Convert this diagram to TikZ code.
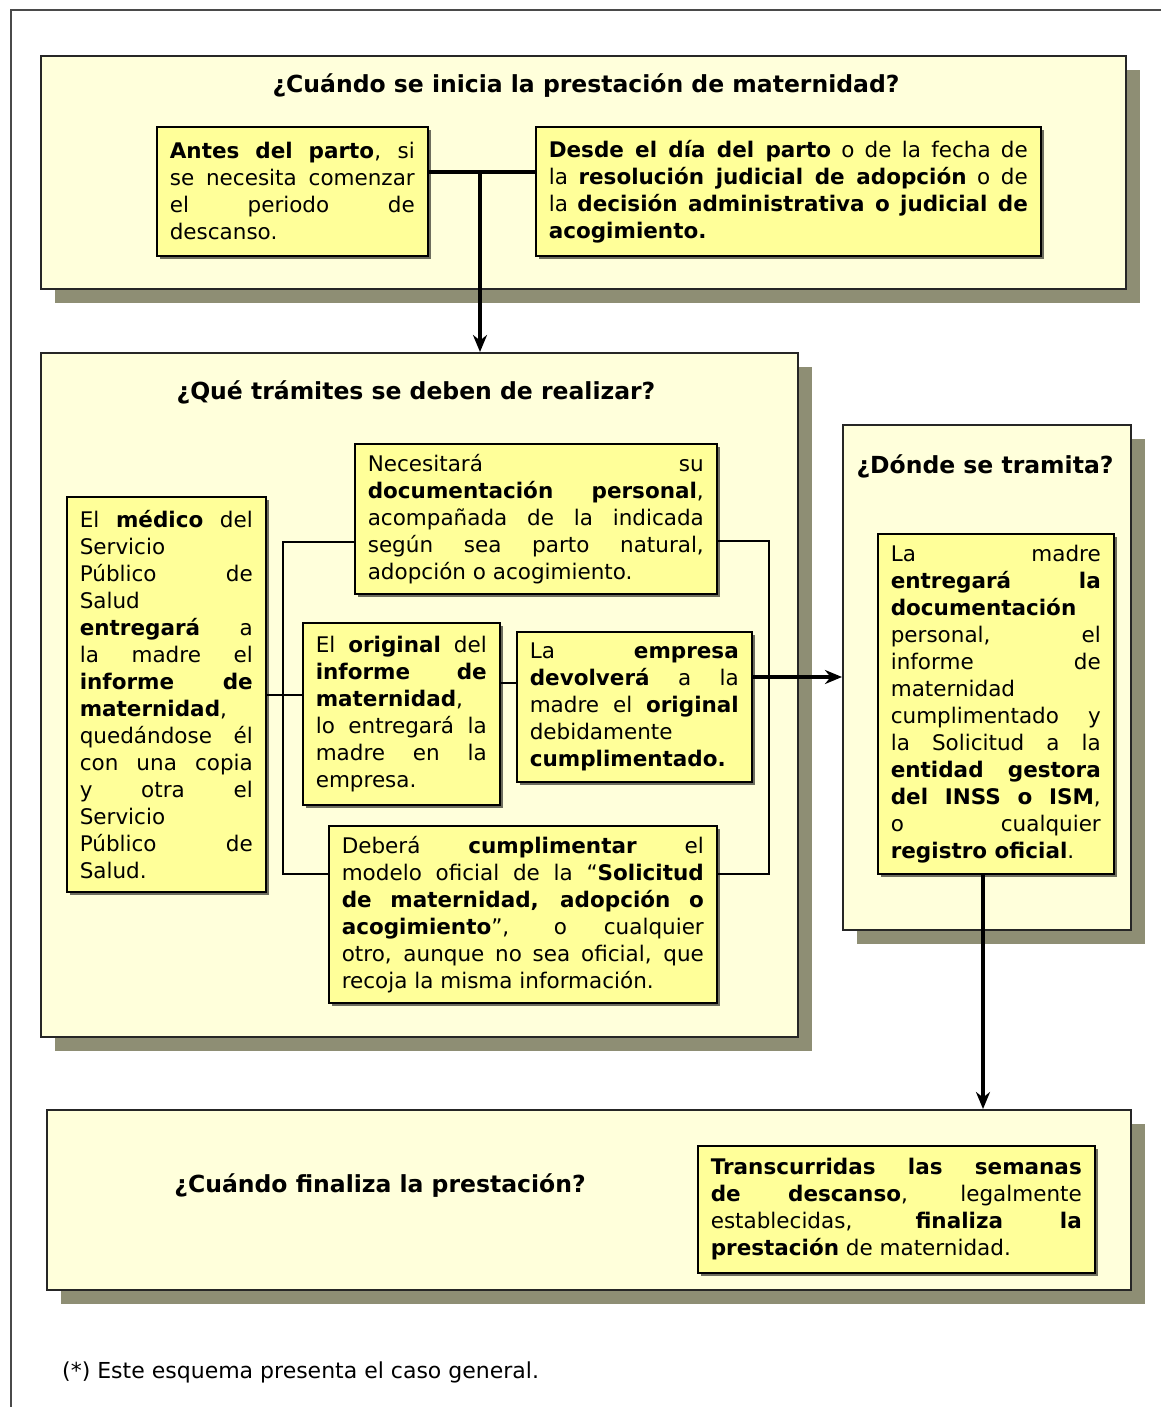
\documentclass[tikz,border=0pt]{standalone}
\usepackage{fontspec}
\setmainfont{DejaVu Sans}
\usepackage{tikz}
\usetikzlibrary{shadows, arrows.meta}

\definecolor{panelfill}{HTML}{FFFFDB}
\definecolor{boxfill}{HTML}{FFFF99}
\definecolor{panelshadow}{HTML}{8E8E74}
\definecolor{boxshadow}{HTML}{6E6E5E}
\definecolor{framegray}{HTML}{4A4A4A}

\setlength{\parindent}{0pt}
\hyphenpenalty=10000

\newcommand{\bodyfont}{\fontsize{21.5}{27}\selectfont}
\newcommand{\titlefont}{\fontsize{23.5}{28}\selectfont\bfseries}

\tikzset{
  panel/.style={draw=black!85, fill=panelfill, line width=2pt, anchor=north west, inner sep=0pt,
    drop shadow={shadow xshift=14pt, shadow yshift=-14pt, fill=panelshadow, opacity=1}},
  textbox/.style={draw=black, fill=boxfill, line width=1.6pt, anchor=north west, align=justify,
    inner xsep=13pt, inner ysep=0pt, font=\bodyfont,
    drop shadow={shadow xshift=3pt, shadow yshift=-3pt, fill=boxshadow, opacity=1}},
  paneltitle/.style={font=\titlefont, inner sep=0pt},
  link/.style={line width=1.6pt},
  thicklink/.style={line width=4pt},
  flecha/.style={-{Stealth[length=17pt, width=14pt]}}
}

\begin{document}
\begin{tikzpicture}[x=1pt, y=-1pt]
    \useasboundingbox (0,0) rectangle (1161,1407);
    \fill[white] (0,0) rectangle (1161,1407);

    % draw outer frame (top and left only)
    \draw[framegray, line width=2pt] (11,1407) -- (11,10) -- (1161,10);

    % draw the four panels
    \node[panel, minimum width=1085pt, minimum height=233pt] (inicio) at (40,55) {};
    \node[panel, minimum width=757pt, minimum height=684pt] (tramites) at (40,352) {};
    \node[panel, minimum width=288pt, minimum height=505pt] (donde) at (842,424) {};
    \node[panel, minimum width=1084pt, minimum height=180pt] (fin) at (46,1109) {};

    % panel titles
    \node[paneltitle] (tinicio) at (586,86) {¿Cuándo se inicia la prestación de maternidad?};
    \node[paneltitle] (ttramites) at (416,392) {¿Qué trámites se deben de realizar?};
    \node[paneltitle] (tdonde) at (985,466) {¿Dónde se tramita?};
    \node[paneltitle] (tfin) at (380,1186) {¿Cuándo finaliza la prestación?};

    % boxes of the first panel
    \node[textbox, text width=245pt, minimum height=129pt] (antes) at (156,126)
      {\textbf{Antes del parto}, si\linebreak se necesita comenzar\linebreak el periodo de\linebreak descanso.};
    \node[textbox, text width=479pt, minimum height=129pt] (desde) at (535,126)
      {\textbf{Desde el día del parto} o de la fecha de\linebreak la \textbf{resolución judicial de adopción} o de\linebreak la \textbf{decisión administrativa o judicial de\linebreak acogimiento.}};

    % boxes of the second panel
    \node[textbox, text width=336pt, minimum height=150pt] (necesita) at (354,443)
      {Necesitará su\linebreak \textbf{documentación personal},\linebreak acompañada de la indicada\linebreak según sea parto natural,\linebreak adopción o acogimiento.};
    \node[textbox, text width=173pt, minimum height=395pt] (medico) at (66,496)
      {El \textbf{médico} del\linebreak Servicio\linebreak Público de\linebreak Salud\linebreak \textbf{entregará} a\linebreak la madre el\linebreak \textbf{informe de}\linebreak \textbf{maternidad},\linebreak quedándose él\linebreak con una copia\linebreak y otra el\linebreak Servicio\linebreak Público de\linebreak Salud.};
    \node[textbox, text width=171pt, minimum height=182pt] (original) at (302,622)
      {El \textbf{original} del\linebreak \textbf{informe de}\linebreak \textbf{maternidad},\linebreak lo entregará la\linebreak madre en la\linebreak empresa.};
    \node[textbox, text width=209pt, minimum height=150pt] (empresa) at (516,631)
      {La \textbf{empresa}\linebreak \textbf{devolverá} a la\linebreak madre el \textbf{original}\linebreak debidamente\linebreak \textbf{cumplimentado.}};
    \node[textbox, text width=362pt, minimum height=177pt] (debera) at (328,825)
      {Deberá \textbf{cumplimentar} el\linebreak modelo oficial de la “\textbf{Solicitud}\linebreak \textbf{de maternidad, adopción o}\linebreak \textbf{acogimiento}”, o cualquier\linebreak otro, aunque no sea oficial, que\linebreak recoja la misma información.};

    % box of the third panel
    \node[textbox, text width=210pt, minimum height=340pt] (entrega) at (877,533)
      {La madre\linebreak \textbf{entregará la}\linebreak \textbf{documentación}\linebreak personal, el\linebreak informe de\linebreak maternidad\linebreak cumplimentado y\linebreak la Solicitud a la\linebreak \textbf{entidad gestora}\linebreak \textbf{del INSS o ISM},\linebreak o cualquier\linebreak \textbf{registro oficial}.};

    % box of the last panel
    \node[textbox, text width=371pt, minimum height=127pt] (semanas) at (697,1145)
      {\textbf{Transcurridas las semanas}\linebreak \textbf{de descanso}, legalmente\linebreak establecidas, \textbf{finaliza la}\linebreak \textbf{prestación} de maternidad.};

    % draw links of the first panel
    \coordinate (ramal) at (480,172);
    \draw[thicklink] (antes.east |- ramal) -- (desde.west |- ramal);
    \draw[thicklink, flecha] (ramal) -- (ramal |- tramites.north);

    % draw brackets of the second panel
    \coordinate (izqa) at (283,542);
    \coordinate (izqb) at (283,874);
    \coordinate (dera) at (769,541);
    \coordinate (derb) at (769,874);
    \draw[link] (necesita.west |- izqa) -- (izqa) -- (izqb) -- (debera.west |- izqb);
    \draw[link] (necesita.east |- dera) -- (dera) -- (derb) -- (debera.east |- derb);

    \coordinate (medio) at (283,695);
    \draw[link] (medico.east |- medio) -- (original.west |- medio);
    \coordinate (paso) at (508,683);
    \draw[link] (original.east |- paso) -- (empresa.west |- paso);

    % draw arrows between panels
    \coordinate (salida) at (769,677);
    \draw[thicklink, flecha] (empresa.east |- salida) -- (donde.west |- salida);
    \coordinate (bajada) at (983,873);
    \draw[thicklink, flecha] (entrega.south -| bajada) -- (fin.north -| bajada);

    % footnote
    \node[anchor=west, inner sep=0pt, font=\fontsize{22}{27}\selectfont] (nota) at (62,1372)
      {(*) Este esquema presenta el caso general.};
\end{tikzpicture}
\end{document}
